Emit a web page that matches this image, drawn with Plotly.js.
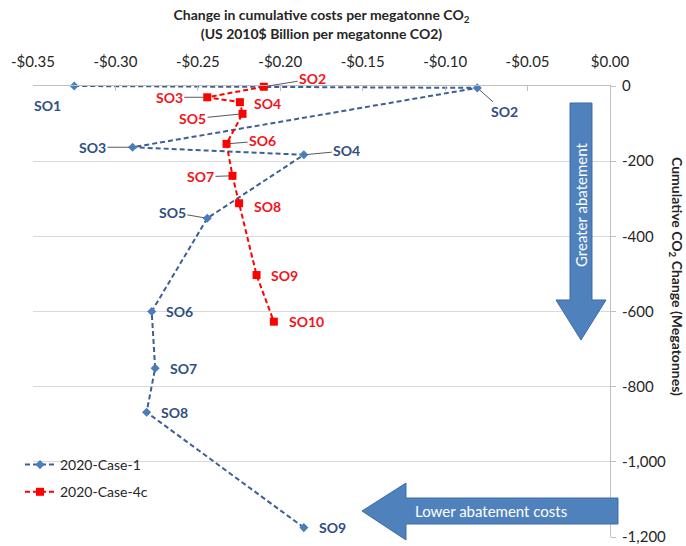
<!DOCTYPE html>
<html>
<head>
<meta charset="utf-8">
<script src="https://cdn.plot.ly/plotly-3.0.1.min.js"></script>
<style>html,body{margin:0;padding:0;background:#fff}#chart{width:686px;height:546px}</style>
</head>
<body>
<div id="chart"></div>
<script>
// ---- data ----
const case1Labels = ['SO1','SO2','SO3','SO4','SO5','SO6','SO7','SO8','SO9'];
const case1Cost   = [-0.325, -0.0805, -0.2896, -0.1857, -0.2443, -0.278, -0.2759, -0.2811, -0.1857];
const case1CO2    = [0, -5, -163, -183, -352, -600, -751, -868, -1175];

const case4cLabels = ['SO2','SO3','SO4','SO5','SO6','SO7','SO8','SO9','SO10'];
const case4cCost   = [-0.210, -0.2443, -0.2245, -0.2229, -0.2326, -0.229, -0.225, -0.2144, -0.2039];
const case4cCO2    = [-2, -30, -43, -74, -154, -239, -312, -503, -627];

const xTickVals = [-0.35, -0.30, -0.25, -0.20, -0.15, -0.10, -0.05, 0];
const xTickText = ['-$0.35','-$0.30','-$0.25','-$0.20','-$0.15','-$0.10','-$0.05','$0.00'];
const yTickVals = [0, -200, -400, -600, -800, -1000, -1200];
const yTickText = ['0','-200','-400','-600','-800','-1,000','-1,200'];

// ---- label placement (style only: pixel offsets; arrow=true draws a leader line) ----
const case1Place = [
  {dx:-27, dy:19, arrow:false},
  {dx:27, dy:24, arrow:true},
  {dx:-40, dy:0, arrow:true},
  {dx:43, dy:-4, arrow:true},
  {dx:-35, dy:-6, arrow:true},
  {dx:28, dy:0, arrow:false},
  {dx:28, dy:0, arrow:false},
  {dx:28, dy:0, arrow:false},
  {dx:29, dy:0, arrow:false}
];
const case4cPlace = [
  {dx:49, dy:-8, arrow:true},
  {dx:-38, dy:0, arrow:true},
  {dx:28, dy:1, arrow:false},
  {dx:-50, dy:5, arrow:true},
  {dx:36, dy:-3, arrow:true},
  {dx:-32, dy:1, arrow:true},
  {dx:28, dy:3, arrow:false},
  {dx:28, dy:0, arrow:false},
  {dx:33, dy:0, arrow:false}
];

const FONT = 'Lato, "Open Sans", sans-serif';
const BLUE_LINE = '#3E5F93';
const BLUE_MARK = '#4A7EBB';
const BLUE_TEXT = '#2E4F82';
const RED = '#FF0000';
const RED_TEXT = '#F2141B';

const W = 686, H = 546;
const M = {l:33, r:76, t:86, b:9};
const PW = W - M.l - M.r, PH = H - M.t - M.b;
const px = v => (v - M.l) / PW;
const py = v => (H - M.b - v) / PH;

function labelAnn(xs, ys, labels, place, color) {
  return labels.map((t, i) => {
    const p = place[i];
    const a = {x: xs[i], y: ys[i], xref:'x', yref:'y', text: t,
      xanchor:'center', yanchor:'middle',
      font:{family:FONT, size:14, color:color, weight:'bold'}};
    if (p.arrow) {
      Object.assign(a, {showarrow:true, arrowhead:0, arrowwidth:1, arrowcolor:'#595959',
        ax:p.dx, ay:p.dy, standoff:3, borderpad:1});
    } else {
      Object.assign(a, {showarrow:false, xshift:p.dx, yshift:-p.dy});
    }
    return a;
  });
}

const traces = [
  {x: case1Cost, y: case1CO2, name:'2020-Case-1', mode:'lines+markers', legendgroup:'a',
   line:{color:BLUE_LINE, width:2, dash:'5px,3px'},
   marker:{symbol:'diamond', size:7, color:BLUE_MARK}, cliponaxis:false},
  {x: case4cCost, y: case4cCO2, name:'2020-Case-4c', mode:'lines+markers', legendgroup:'b',
   line:{color:RED, width:2, dash:'5px,3px'},
   marker:{symbol:'square', size:8, color:RED}, cliponaxis:false}
];

// block arrows (pixel outlines converted to paper coords)
function pathFrom(pts) {
  return 'M' + pts.map(p => px(p[0]).toFixed(5) + ',' + py(p[1]).toFixed(5)).join(' L') + ' Z';
}
const downArrow = [[570,103],[592,103],[592,300],[606,300],[581,340],[556,300],[570,300]];
const leftArrow = [[618,498],[618,524],[406,524],[406,540],[362,511],[406,483],[406,498]];

const shapes = [downArrow, leftArrow].map(p => ({
  type:'path', xref:'paper', yref:'paper', path: pathFrom(p),
  fillcolor:'#4F81BD', line:{color:'#3E6CA6', width:1}, layer:'above'
}));

const annotations = [
  ...labelAnn(case1Cost, case1CO2, case1Labels, case1Place, BLUE_TEXT),
  ...labelAnn(case4cCost, case4cCO2, case4cLabels, case4cPlace, RED_TEXT),
  {xref:'paper', yref:'paper', x:px(581), y:py(205), xanchor:'center', yanchor:'middle',
   text:'Greater abatement', showarrow:false,
   textangle:-90, font:{family:FONT, size:15, color:'#ffffff'}},
  {xref:'paper', yref:'paper', x:px(491), y:py(511), xanchor:'center', yanchor:'middle',
   text:'Lower abatement costs', showarrow:false,
   font:{family:FONT, size:15, color:'#ffffff'}},
  {xref:'paper', yref:'paper', x:px(677), y:py(276), xanchor:'center', yanchor:'middle',
   text:'<b>Cumulative CO<sub>2</sub> Change (Megatonnes)</b>',
   showarrow:false, textangle:90, font:{family:FONT, size:14, color:'#262626'}}
];

const layout = {
  width:W, height:H, margin:M, paper_bgcolor:'#fff', plot_bgcolor:'#fff',
  font:{family:FONT, size:14, color:'#404040'},
  showlegend:true,
  legend:{x:px(20), y:py(449), xanchor:'left', yanchor:'top', bgcolor:'rgba(0,0,0,0)',
    font:{family:FONT, size:14, color:'#262626'}, traceorder:'grouped', tracegroupgap:6},
  xaxis:{side:'top', range:[-0.35, 0], tickvals:xTickVals, ticktext:xTickText,
    showgrid:false, zeroline:false, showline:true, linecolor:'#BFBFBF', linewidth:1,
    ticks:'inside', ticklen:5, tickcolor:'#BFBFBF', ticklabelstandoff:12,
    tickfont:{family:FONT, size:15, color:'#262626'},
    title:{text:'<b>Change in cumulative costs per megatonne CO<sub>2</sub></b><br><b>(US 2010$ Billion per megatonne CO2)</b>',
      font:{family:FONT, size:14, color:'#262626'}, standoff:9}},
  yaxis:{side:'right', range:[-1200, 0], tickvals:yTickVals, ticktext:yTickText,
    showgrid:true, gridcolor:'#D9D9D9', zeroline:false, showline:true, linecolor:'#BFBFBF', linewidth:1,
    ticks:'outside', ticklen:5, tickcolor:'#BFBFBF', ticklabelstandoff:3,
    tickfont:{family:FONT, size:15, color:'#262626'}},
  shapes:shapes, annotations:annotations
};

Plotly.newPlot('chart', traces, layout, {displayModeBar:false, responsive:false});
</script>
</body>
</html>
